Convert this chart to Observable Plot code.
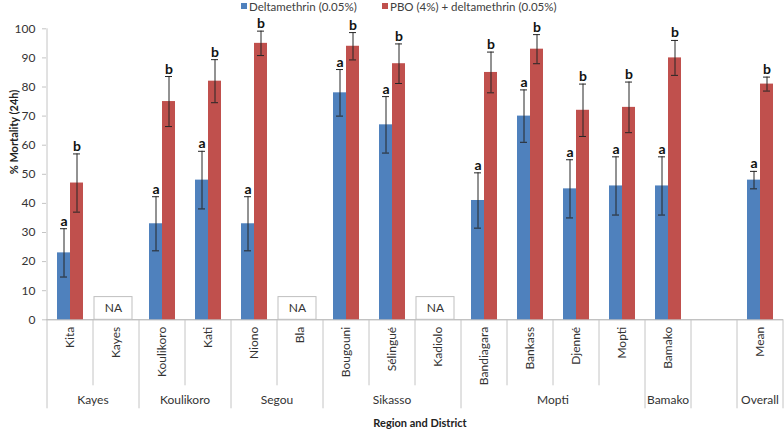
<!DOCTYPE html>
<html>
<head>
<meta charset="utf-8">
<script src="https://cdn.jsdelivr.net/npm/d3@7"></script>
<script src="https://cdn.jsdelivr.net/npm/@observablehq/plot@0.6"></script>
<style>
  html, body { margin: 0; padding: 0; background: #fff; }
  #wrap { width: 784px; position: relative; font-family: Lato, "Liberation Sans", sans-serif; }
  #legend { position: relative; height: 14px; width: 784px; font-size: 11.5px; color: #404040; }
  #legend .sw { position: absolute; top: 3px; width: 6px; height: 6px; }
  #legend .lb { position: absolute; top: 0; line-height: 13px; white-space: nowrap; }
</style>
</head>
<body>
<div id="wrap">
  <div id="legend"></div>
  <div id="chart"></div>
</div>
<script>
// ---- Data ----
const districts = ["Kita", "Kayes", "Koulikoro", "Kati", "Niono", "Bla", "Bougouni", "Sélingué", "Kadiolo",
                   "Bandiagara", "Bankass", "Djenné", "Mopti", "Bamako", "", "Mean"];
const regions   = ["Kayes", "Kayes", "Koulikoro", "Koulikoro", "Segou", "Segou", "Sikasso", "Sikasso", "Sikasso",
                   "Mopti", "Mopti", "Mopti", "Mopti", "Bamako", "", "Overall"];
const seriesNames = ["Deltamethrin (0.05%)", "PBO (4%) + deltamethrin (0.05%)"];
const seriesColors = ["#4F81BD", "#C0504D"];
const deltaValues = [23, null, 33, 48, 33, null, 78, 67, null, 41, 70, 45, 46, 46, null, 48];
const deltaErrors = [8.3, null, 9.3, 9.9, 9.3, null, 8, 9.7, null, 9.5, 9, 10, 10, 10, null, 3];
const pboValues   = [47, null, 75, 82, 95, null, 94, 88, null, 85, 93, 72, 73, 90, null, 81];
const pboErrors   = [10, null, 8.6, 7.4, 4.2, null, 4.7, 6.8, null, 7, 5, 9, 8.7, 6, null, 2.4];
const deltaLetter = "a";
const pboLetter = "b";
const naDistricts = ["Kayes", "Bla", "Kadiolo"];
const naLabel = "NA";
const naTop = 7.8;
const yTicks = [0, 10, 20, 30, 40, 50, 60, 70, 80, 90, 100];
const yTitle = "% Mortality (24h)";
const xTitle = "Region and District";

// ---- Tidy rows ----
const rowsDelta = [], rowsPbo = [];
districts.forEach((d, i) => {
  if (deltaValues[i] != null) rowsDelta.push({district: d, value: deltaValues[i], err: deltaErrors[i], letter: deltaLetter});
  if (pboValues[i] != null) rowsPbo.push({district: d, value: pboValues[i], err: pboErrors[i], letter: pboLetter});
});

// ---- Legend ----
const legend = document.getElementById("legend");
const legendPos = [[241, 249], [382, 390]];
seriesNames.forEach((name, i) => {
  const sw = document.createElement("span");
  sw.className = "sw"; sw.style.left = legendPos[i][0] + "px"; sw.style.background = seriesColors[i];
  const lb = document.createElement("span");
  lb.className = "lb"; lb.style.left = legendPos[i][1] + "px"; lb.textContent = name;
  legend.append(sw, lb);
});

const sepColor = "#c4c4c4";
const errColor = "#262626";

// Multi-level category axis (separators + region labels), drawn from the x band scale
function categoryAxis(index, scales, values, dims) {
  const x = scales.x, y = scales.y;
  const bw = x.bandwidth();
  const y0 = y(0);
  const g = d3.create("svg:g");
  g.append("line")
    .attr("x1", x(districts[0])).attr("x2", x(districts[0]))
    .attr("y1", y(100)).attr("y2", y0)
    .attr("stroke", sepColor);
  for (let i = 0; i <= districts.length; i++) {
    const xp = i < districts.length ? x(districts[i]) : x(districts[districts.length - 1]) + bw;
    const isLong = i === 0 || i === districts.length || regions[i] !== regions[i - 1];
    g.append("line")
      .attr("x1", xp).attr("x2", xp)
      .attr("y1", y0).attr("y2", y0 + (isLong ? 89 : 66))
      .attr("stroke", sepColor);
  }
  let start = 0;
  for (let i = 1; i <= districts.length; i++) {
    if (i === districts.length || regions[i] !== regions[start]) {
      const name = regions[start];
      if (name) {
        const cx = (x(districts[start]) + x(districts[i - 1]) + bw) / 2;
        g.append("text")
          .attr("x", cx).attr("y", y0 + 80)
          .attr("dy", "0.35em")
          .attr("text-anchor", "middle")
          .attr("fill", "#333")
          .attr("font-size", 12)
          .text(name);
      }
      start = i;
    }
  }
  return g.node();
}

const chart = Plot.plot({
  width: 784,
  height: 419,
  marginTop: 14.3,
  marginBottom: 113.7,
  marginLeft: 46,
  marginRight: 1,
  style: {fontFamily: "Lato, 'Liberation Sans', sans-serif", fontSize: "12px", color: "#333", background: "#fff"},
  x: {domain: districts, padding: 0},
  y: {domain: [0, 100]},
  marks: [
    Plot.ruleY([0], {stroke: "#a8a8a8"}),
    categoryAxis,
    Plot.axisY({ticks: yTicks, tickSize: 4, tickPadding: 7, label: null, stroke: sepColor, fill: "#333", fontSize: 12, tickFormat: d => d}),
    Plot.axisX({tickRotate: -90, tickSize: 0, tickPadding: 7, label: null, fill: "#333", fontSize: 12}),
    // NA boxes
    Plot.barY(naDistricts, {x: d => d, y1: 0, y2: naTop, fill: "#fff", stroke: "#bfbfbf", insetLeft: 1, insetRight: 7}),
    Plot.text(naDistricts, {x: d => d, y: naTop / 2, text: () => naLabel, dx: -3, fontSize: 12, fill: "#333"}),
    // bars
    Plot.barY(rowsDelta, {x: "district", y: "value", fill: seriesColors[0], insetLeft: 10, insetRight: 23}),
    Plot.barY(rowsPbo, {x: "district", y: "value", fill: seriesColors[1], insetLeft: 23, insetRight: 10}),
    // error bars
    Plot.ruleX(rowsDelta, {x: "district", y1: d => d.value - d.err, y2: d => d.value + d.err, dx: -6.5, stroke: errColor, strokeWidth: 1}),
    Plot.ruleX(rowsPbo, {x: "district", y1: d => d.value - d.err, y2: d => d.value + d.err, dx: 6.5, stroke: errColor, strokeWidth: 1}),
    Plot.tickY(rowsDelta, {x: "district", y: d => d.value + d.err, insetLeft: 13, insetRight: 26, stroke: errColor}),
    Plot.tickY(rowsDelta, {x: "district", y: d => d.value - d.err, insetLeft: 13, insetRight: 26, stroke: errColor}),
    Plot.tickY(rowsPbo, {x: "district", y: d => d.value + d.err, insetLeft: 26, insetRight: 13, stroke: errColor}),
    Plot.tickY(rowsPbo, {x: "district", y: d => d.value - d.err, insetLeft: 26, insetRight: 13, stroke: errColor}),
    // significance letters
    Plot.text(rowsDelta, {x: "district", y: d => d.value + d.err, text: "letter", dx: -6.5, lineAnchor: "bottom", dy: -3, fontWeight: "bold", fontSize: 14, fill: "#111"}),
    Plot.text(rowsPbo, {x: "district", y: d => d.value + d.err, text: "letter", dx: 6.5, lineAnchor: "bottom", dy: -3, fontWeight: "bold", fontSize: 14, fill: "#111"}),
    // axis titles
    Plot.text([yTitle], {frameAnchor: "left", rotate: -90, dx: -32, fontWeight: "bold", fontSize: 11, fill: "#222"}),
    Plot.text([xTitle], {frameAnchor: "bottom", dy: 107, dx: 5, fontWeight: "bold", fontSize: 11, fill: "#222"})
  ]
});
document.getElementById("chart").append(chart);
</script>
</body>
</html>
